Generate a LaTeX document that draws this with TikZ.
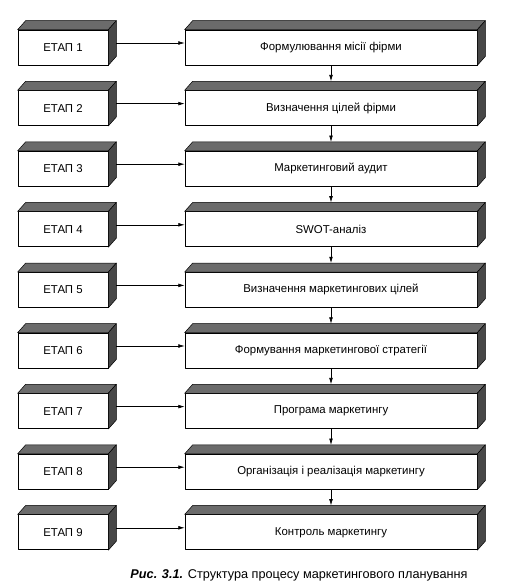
\documentclass[tikz,border=0pt]{standalone}
\usepackage{fontspec}
\setmainfont{Liberation Sans}
\usetikzlibrary{arrows.meta, positioning, calc}
\tikzset{every node/.style={font=\fontsize{11.4}{13}\selectfont}, every path/.style={line cap=round, line join=round}, >={Latex[length=2.2mm, width=1.3mm]}}
\tikzset{
    stagebox/.style={draw, fill=white, minimum width=90, minimum height=35, inner sep=0pt, line width=0.7pt},
    taskbox/.style={stagebox, minimum width=292},
    topface/.style={fill=black!58, draw=black, line width=0.5pt},
    sideface/.style={fill=black!72, draw=black, line width=0.5pt},
    flow/.style={->, line width=0.6pt}
}
\newcommand{\boxfaces}[1]{%
    \filldraw [topface] (#1.north west) -- ++(8,9) -- ($(#1.north east)+(8,9)$) -- (#1.north east) -- cycle;
    \filldraw [sideface] (#1.north east) -- ++(8,9) -- ($(#1.south east)+(8,9)$) -- (#1.south east) -- cycle;
}

\begin{document}
\begin{tikzpicture}[x=1pt, y=1pt]
    \useasboundingbox (0,0) rectangle (506,-587);
    \foreach \i/\task in {1/Формулювання місії фірми, 2/Визначення цілей фірми, 3/Маркетинговий аудит, 4/SWOT-аналіз, 5/Визначення маркетингових цілей, 6/Формування маркетингової стратегії, 7/Програма маркетингу, 8/Організація і реалізація маркетингу, 9/Контроль маркетингу} {
        \node [stagebox] (stage\i) at (63, {-47.5-60.6*(\i-1)}) {ЕТАП \i};
        \node [taskbox] (task\i) at (331, {-47.5-60.6*(\i-1)}) {\task};
        \boxfaces{stage\i}
        \boxfaces{task\i}
        \coordinate (out\i) at ($(stage\i.east)+(8,4.5)$);
        \draw [flow] (out\i) -- (out\i -| task\i.west);
    }
    % vertical links between the steps
    \foreach \i [evaluate=\i as \j using int(\i+1)] in {1,...,8} {
        \coordinate (in\j) at ($(task\j.north)+(0,9)$);
        \draw [flow] (task\i.south) -- (in\j);
    }
    \node [font=\fontsize{12.7}{14}\selectfont] (caption) at (299,-575) {\textbf{\textit{Рис. 3.1.}} Структура процесу маркетингового планування};
\end{tikzpicture}
\end{document}
